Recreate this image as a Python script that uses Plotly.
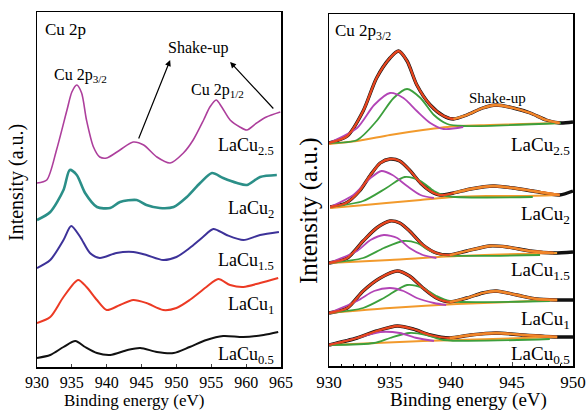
import plotly.graph_objects as go

# ---------------- Left panel: Cu 2p survey spectra (offset, arbitrary units) ----------------
E25 = [930.0, 931.4, 932.8, 934.3, 935.0, 935.7, 936.4, 937.1, 938.1, 939.0, 940.0, 941.9, 943.8, 945.3,
       947.2, 949.1, 951.0, 952.4, 953.9, 954.8, 955.7, 956.5, 957.7, 959.1, 960.1, 961.5, 962.9, 964.9]
I25 = [184, 187, 217, 257, 275, 282, 274, 247, 220, 210, 209, 217, 225, 222,
       210, 204, 214, 227, 247, 260, 267, 260, 247, 240, 237, 244, 250, 255]

E20 = [930.0, 931.9, 933.8, 934.7, 935.7, 936.9, 938.6, 940.5, 941.9, 944.3, 945.7, 947.6, 949.6,
       951.5, 953.4, 955.1, 956.7, 958.7, 960.1, 962.0, 964.4]
I20 = [147, 155, 177, 197, 192, 174, 160, 159, 165, 167, 162, 159, 160,
       170, 184, 194, 189, 184, 182, 190, 192]

E15 = [930.0, 931.9, 933.8, 934.9, 936.2, 937.6, 939.0, 941.4, 943.8, 945.7, 948.1, 950.0, 951.9,
       953.8, 955.3, 957.2, 959.6, 962.0, 964.7]
I15 = [99, 107, 127, 141, 130, 114, 109, 114, 115, 112, 107, 110, 119,
       130, 138, 132, 127, 132, 135]

E10 = [930.0, 931.9, 933.8, 935.9, 937.1, 938.6, 940.0, 941.9, 943.8, 945.7, 948.1, 950.0, 951.9,
       954.3, 956.0, 957.7, 959.6, 962.0, 964.6]
I10 = [44, 50, 70, 87, 80, 67, 57, 62, 67, 64, 57, 59, 67,
       80, 88, 82, 80, 84, 89]

E05 = [930.0, 931.9, 933.8, 935.5, 936.9, 938.6, 940.5, 943.0, 944.8, 947.2, 949.6, 951.9, 954.3,
       956.7, 959.6, 962.5, 964.6]
I05 = [9, 12, 20, 26, 20, 14, 12, 17, 19, 15, 14, 20, 27,
       31, 30, 32, 35]

left_series = [
    ("LaCu2.5", E25, I25, "#ad3f9c", 1.6),
    ("LaCu2", E20, I20, "#2b8f88", 2.6),
    ("LaCu1.5", E15, I15, "#3d3299", 2.0),
    ("LaCu1", E10, I10, "#ec3a24", 2.0),
    ("LaCu0.5", E05, I05, "#111111", 2.0),
]

# ---------------- Right panel: Cu 2p3/2 fitted spectra ----------------
# LaCu2.5
R25_bg_E = [930.0, 932.3, 935.0, 937.7, 940.5, 943.2, 945.9, 948.9]
R25_bg_I = [222, 225, 231, 236, 240, 241, 242, 243]
R25_fit_E = [930.0, 931.5, 932.8, 933.9, 935.0, 935.7, 936.4, 937.2, 938.3, 939.4, 940.2, 941.3, 942.6,
             943.7, 945.1, 946.5, 947.8, 948.9]
R25_fit_I = [223, 230, 255, 288, 308, 315, 305, 281, 261, 250, 247, 251, 258, 261, 258, 253, 246, 243]
R25_dat_E = R25_fit_E + [950.0]
R25_dat_I = R25_fit_I + [244]
R25_mag_E = [930.0, 932.3, 933.7, 935.0, 936.1, 937.2, 938.3, 939.4, 941.0]
R25_mag_I = [223, 238, 261, 273, 268, 255, 243, 237, 239]
R25_grn_E = [930.0, 932.3, 933.9, 935.3, 936.4, 937.5, 938.6, 939.7, 941.0, 949.0]
R25_grn_I = [223, 226, 245, 268, 277, 268, 251, 242, 240, 243]
R25_shk_E = [940.2, 941.3, 942.6, 943.7, 945.1, 946.5, 947.8, 948.9]
R25_shk_I = [247, 251, 258, 261, 258, 253, 246, 243]

# LaCu2
R20_bg_E = [930.1, 932.0, 934.7, 937.5, 940.2, 942.9, 945.7, 948.9]
R20_bg_I = [158, 160, 163, 166, 169, 170, 170, 171]
R20_fit_E = [930.1, 931.4, 932.5, 933.4, 934.2, 935.0, 935.8, 936.6, 937.5, 938.3, 939.1, 940.2, 941.6,
             943.5, 945.1, 946.7, 948.9]
R20_fit_I = [159, 163, 175, 191, 203, 207, 205, 196, 183, 175, 171, 173, 177, 180, 178, 175, 171]
R20_dat_E = R20_fit_E + [950.0]
R20_dat_I = R20_fit_I + [175]
R20_mag_E = [930.1, 932.0, 933.4, 934.3, 935.2, 936.4, 937.5, 938.6]
R20_mag_I = [159, 171, 188, 195, 191, 180, 171, 168]
R20_grn_E = [930.1, 932.8, 934.7, 936.2, 937.5, 938.6, 939.6, 946.7]
R20_grn_I = [159, 165, 178, 189, 185, 175, 170, 169]
R20_shk_E = [940.2, 941.6, 943.5, 945.1, 946.7, 948.9]
R20_shk_I = [173, 177, 180, 178, 175, 171]

# LaCu1.5
R15_bg_E = [930.0, 935.0, 940.5, 948.7]
R15_bg_I = [103, 106, 110, 113]
R15_fit_E = [930.0, 931.5, 932.8, 933.9, 935.0, 935.8, 936.6, 937.7, 938.8, 939.9, 941.3, 943.2, 944.6,
             946.5, 948.4]
R15_fit_I = [103, 108, 125, 138, 145, 143, 135, 121, 113, 111, 115, 120, 119, 115, 113]
R15_dat_E = R15_fit_E + [950.0]
R15_dat_I = R15_fit_I + [114]
R15_mag_E = [930.0, 932.3, 933.4, 934.5, 935.6, 936.6, 937.7, 938.8]
R15_mag_I = [103, 115, 126, 131, 128, 118, 111, 108]
R15_grn_E = [930.0, 932.8, 934.5, 936.1, 937.2, 938.3, 939.4, 947.3]
R15_grn_I = [103, 108, 118, 125, 123, 115, 111, 111]
R15_shk_E = [939.9, 941.3, 943.2, 944.6, 946.5, 948.4]
R15_shk_I = [111, 115, 120, 119, 115, 113]

# LaCu1
R10_bg_E = [930.0, 935.0, 940.5, 948.7]
R10_bg_I = [53, 58, 62, 66]
R10_fit_E = [930.0, 931.5, 932.8, 934.2, 935.6, 936.6, 937.7, 938.8, 939.9, 941.3, 942.6, 943.7, 945.4,
             947.0, 948.7]
R10_fit_I = [53, 58, 75, 88, 95, 90, 78, 68, 64, 68, 73, 75, 71, 67, 66]
R10_dat_E = R10_fit_E + [950.0]
R10_dat_I = R10_fit_I + [66]
R10_mag_E = [930.0, 932.3, 933.7, 935.0, 936.1, 937.2, 938.6, 939.6]
R10_mag_I = [53, 65, 75, 78, 75, 68, 63, 61]
R10_grn_E = [930.0, 932.8, 934.5, 936.4, 937.7, 938.8, 939.9, 948.1]
R10_grn_I = [53, 58, 68, 81, 78, 70, 65, 65]
R10_shk_E = [939.9, 941.3, 942.6, 943.7, 945.4, 947.0, 948.7]
R10_shk_I = [64, 68, 73, 75, 71, 67, 66]

# LaCu0.5
R05_bg_E = [930.0, 937.7, 948.7]
R05_bg_I = [21, 25, 29]
R05_fit_E = [930.0, 932.3, 933.9, 935.6, 936.9, 938.3, 939.9, 941.6, 943.7, 945.9, 948.7]
R05_fit_I = [21, 28, 35, 40, 37, 31, 28, 31, 33, 31, 29]
R05_dat_E = R05_fit_E + [950.0]
R05_dat_I = R05_fit_I + [29]
R05_mag_E = [930.0, 932.3, 934.2, 935.8, 937.2, 938.6]
R05_mag_I = [21, 28, 34, 33, 28, 25]
R05_grn_E = [930.0, 933.7, 935.0, 936.6, 938.0, 939.4, 948.1]
R05_grn_I = [21, 23, 28, 33, 31, 26, 27]
R05_shk_E = [939.9, 941.6, 943.7, 945.9, 948.7]
R05_shk_I = [28, 31, 33, 31, 29]

right_sets = [
    (R25_bg_E, R25_bg_I, R25_fit_E, R25_fit_I, R25_dat_E, R25_dat_I, R25_mag_E, R25_mag_I, R25_grn_E, R25_grn_I, R25_shk_E, R25_shk_I),
    (R20_bg_E, R20_bg_I, R20_fit_E, R20_fit_I, R20_dat_E, R20_dat_I, R20_mag_E, R20_mag_I, R20_grn_E, R20_grn_I, R20_shk_E, R20_shk_I),
    (R15_bg_E, R15_bg_I, R15_fit_E, R15_fit_I, R15_dat_E, R15_dat_I, R15_mag_E, R15_mag_I, R15_grn_E, R15_grn_I, R15_shk_E, R15_shk_I),
    (R10_bg_E, R10_bg_I, R10_fit_E, R10_fit_I, R10_dat_E, R10_dat_I, R10_mag_E, R10_mag_I, R10_grn_E, R10_grn_I, R10_shk_E, R10_shk_I),
    (R05_bg_E, R05_bg_I, R05_fit_E, R05_fit_I, R05_dat_E, R05_dat_I, R05_mag_E, R05_mag_I, R05_grn_E, R05_grn_I, R05_shk_E, R05_shk_I),
]

left_ticks = [930, 935, 940, 945, 950, 955, 960, 965]
right_ticks = [930, 935, 940, 945, 950]

C_MAG = "#b244b6"
C_GRN = "#3c9f3c"
C_BG = "#f29a2c"
C_FIT = "#e8461f"
C_SHK = "#f0882a"

FONT = "Liberation Serif, Times New Roman, serif"
W, H = 588, 410
SM = 0.75

fig = go.Figure()

for name, ex, iy, col, lw in left_series:
    fig.add_trace(go.Scatter(x=ex, y=iy, mode="lines", line=dict(color=col, width=lw, shape="spline", smoothing=SM),
                             xaxis="x", yaxis="y", showlegend=False, name=name))

for (bgE, bgI, fE, fI, dE, dI, mE, mI, gE, gI, sE, sI) in right_sets:
    fig.add_trace(go.Scatter(x=dE, y=dI, mode="lines", line=dict(color="#111111", width=3.4, shape="spline", smoothing=SM),
                             xaxis="x2", yaxis="y2", showlegend=False))
    fig.add_trace(go.Scatter(x=bgE, y=bgI, mode="lines", line=dict(color=C_BG, width=2, shape="spline", smoothing=SM),
                             xaxis="x2", yaxis="y2", showlegend=False))
    fig.add_trace(go.Scatter(x=gE, y=gI, mode="lines", line=dict(color=C_GRN, width=1.8, shape="spline", smoothing=SM),
                             xaxis="x2", yaxis="y2", showlegend=False))
    fig.add_trace(go.Scatter(x=mE, y=mI, mode="lines", line=dict(color=C_MAG, width=1.8, shape="spline", smoothing=SM),
                             xaxis="x2", yaxis="y2", showlegend=False))
    fig.add_trace(go.Scatter(x=fE, y=fI, mode="lines", line=dict(color=C_FIT, width=2.3, shape="spline", smoothing=SM),
                             xaxis="x2", yaxis="y2", showlegend=False))
    fig.add_trace(go.Scatter(x=sE, y=sI, mode="lines", line=dict(color=C_SHK, width=2.3, shape="spline", smoothing=SM),
                             xaxis="x2", yaxis="y2", showlegend=False))


def px(x):
    return x / W


def py(y):
    return 1 - y / H


axis_common = dict(showline=True, linecolor="black", linewidth=1.5, mirror=True, showgrid=False, zeroline=False,
                   automargin=False)

fig.update_layout(
    width=W, height=H,
    margin=dict(l=0, r=0, t=0, b=0, autoexpand=False),
    paper_bgcolor="white", plot_bgcolor="white",
    font=dict(family=FONT, color="black"),
    hovermode=False,
    xaxis=dict(domain=[px(37), px(281)], range=[930, 965], tickvals=left_ticks, ticks="inside", ticklen=3,
               tickfont=dict(size=16), **axis_common),
    yaxis=dict(domain=[py(367), py(12)], range=[0, 355], showticklabels=False, ticks="", **axis_common),
    xaxis2=dict(domain=[px(329), px(573)], range=[930, 950], tickvals=right_ticks, ticks="inside", ticklen=4,
                minor=dict(dtick=1, ticks="inside", ticklen=2, tickcolor="black"),
                tickfont=dict(size=17), anchor="y2", **axis_common),
    yaxis2=dict(domain=[py(366), py(14)], range=[0, 352], showticklabels=False, ticks="", anchor="x2", **axis_common),
)

ann = []
# axis titles
ann.append(dict(text="Intensity (a.u.)", x=px(17), y=py(183), xref="paper", yref="paper", textangle=-90,
                showarrow=False, font=dict(size=20), xanchor="center", yanchor="middle"))
ann.append(dict(text="Intensity (a.u.)", x=px(309), y=py(211), xref="paper", yref="paper", textangle=-90,
                showarrow=False, font=dict(size=25), xanchor="center", yanchor="middle"))
ann.append(dict(text="Binding energy (eV)", x=px(134), y=py(400), xref="paper", yref="paper",
                showarrow=False, font=dict(size=17), xanchor="center", yanchor="middle", borderpad=0))
ann.append(dict(text="Binding energy (eV)", x=px(468), y=py(400), xref="paper", yref="paper",
                showarrow=False, font=dict(size=19), xanchor="center", yanchor="middle", borderpad=0))

# left panel texts
ann.append(dict(text="Cu 2p", x=px(43), y=py(30), xref="paper", yref="paper", showarrow=False,
                font=dict(size=17), xanchor="left", yanchor="middle"))
ann.append(dict(text="Cu 2p<sub>3/2</sub>", x=px(52), y=py(76), xref="paper", yref="paper", showarrow=False,
                font=dict(size=16), xanchor="left", yanchor="middle"))
ann.append(dict(text="Shake-up", x=px(198), y=py(48), xref="paper", yref="paper", showarrow=False,
                font=dict(size=16), xanchor="center", yanchor="middle"))
ann.append(dict(text="Cu 2p<sub>1/2</sub>", x=px(189), y=py(91), xref="paper", yref="paper", showarrow=False,
                font=dict(size=16), xanchor="left", yanchor="middle"))
for lab, yy in [("LaCu<sub>2.5</sub>", 146), ("LaCu<sub>2</sub>", 209), ("LaCu<sub>1.5</sub>", 261),
                ("LaCu<sub>1</sub>", 305), ("LaCu<sub>0.5</sub>", 355)]:
    ann.append(dict(text=lab, x=px(276), y=py(yy), xref="paper", yref="paper", showarrow=False,
                    font=dict(size=18), xanchor="right", yanchor="middle"))

# arrows (data coordinates of the left panel)
ann.append(dict(x=949.1, y=307, ax=944.5, ay=227, xref="x", yref="y", axref="x", ayref="y", text="",
                showarrow=True, arrowhead=2, arrowsize=1, arrowwidth=1.2, arrowcolor="black"))
ann.append(dict(x=957.7, y=305, ax=964.1, ay=257, xref="x", yref="y", axref="x", ayref="y", text="",
                showarrow=True, arrowhead=2, arrowsize=1, arrowwidth=1.2, arrowcolor="black"))

# right panel texts
ann.append(dict(text="Cu 2p<sub>3/2</sub>", x=px(333), y=py(32), xref="paper", yref="paper", showarrow=False,
                font=dict(size=17), xanchor="left", yanchor="middle"))
ann.append(dict(text="Shake-up", x=px(497), y=py(98), xref="paper", yref="paper", showarrow=False,
                font=dict(size=15), xanchor="center", yanchor="middle"))
for lab, yy in [("LaCu<sub>2.5</sub>", 146), ("LaCu<sub>2</sub>", 215), ("LaCu<sub>1.5</sub>", 271),
                ("LaCu<sub>1</sub>", 320), ("LaCu<sub>0.5</sub>", 355)]:
    ann.append(dict(text=lab, x=px(572), y=py(yy), xref="paper", yref="paper", showarrow=False,
                    font=dict(size=19), xanchor="right", yanchor="middle"))

fig.update_layout(annotations=ann)

fig.write_html("out.html",
               config={"displayModeBar": False, "staticPlot": True},
               post_script="document.body.style.margin='0';document.body.style.padding='0';"
                           "document.body.style.overflow='hidden';")
